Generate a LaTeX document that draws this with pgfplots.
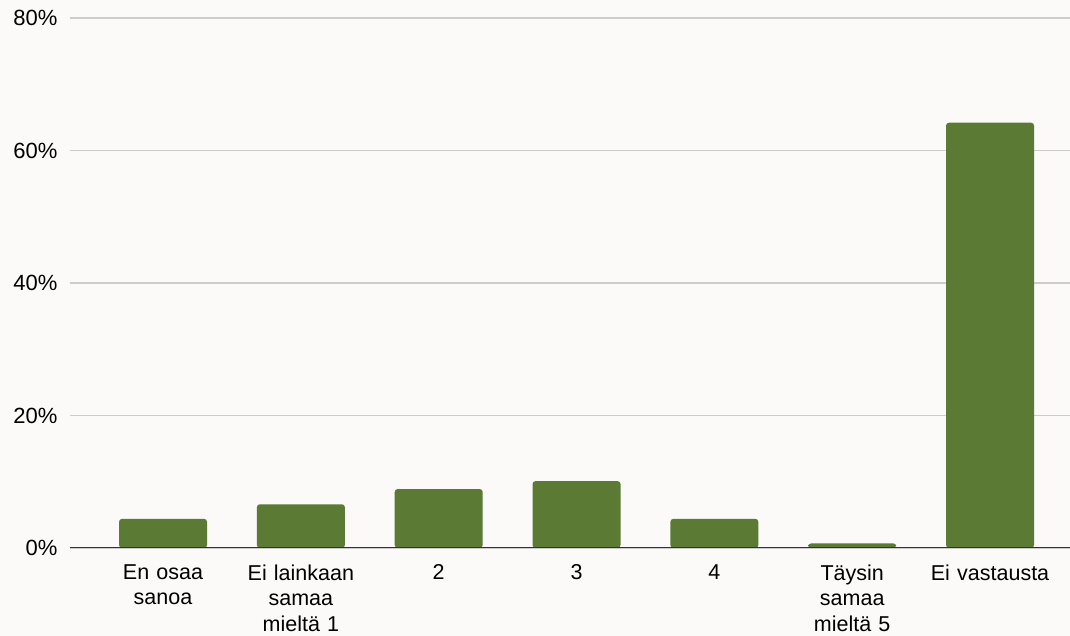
\documentclass[border=0pt]{standalone}
\usepackage{fontspec}
\setmainfont{Liberation Sans}
\usepackage{pgfplots}
\pgfplotsset{compat=1.18}

\definecolor{bargreen}{HTML}{5B7A34}
\definecolor{bggray}{HTML}{FCFAF9}
\definecolor{gridgray}{HTML}{CCCCCC}

\begin{document}
\begin{tikzpicture}
\fill[bggray, use as bounding box] (-70pt,-88pt) rectangle (1000pt,548pt);
\begin{axis}[
    at={(0pt,0pt)}, anchor=south west,
    scale only axis,
    width=1000pt,
    height=530pt,
    ybar,
    bar width=88pt,
    xmin=-0.675, xmax=6.58,
    ymin=0, ymax=80,
    ytick={0,20,40,60,80},
    yticklabel={\pgfmathprintnumber{\tick}\%},
    xtick={0,1,2,3,4,5,6},
    xticklabels={En osaa\\sanoa, Ei lainkaan\\samaa\\mieltä 1, 2, 3, 4, Täysin\\samaa\\mieltä 5, Ei vastausta},
    xticklabel style={align=center, text width=140pt, font=\fontsize{21.5}{25.5}\selectfont, anchor=north, yshift=-13pt},
    yticklabel style={font=\fontsize{22}{25}\selectfont, xshift=-9pt},
    /pgf/number format/assume math mode=true,
    ymajorgrids,
    grid style={gridgray, line width=1.2pt},
    major tick length=0pt,
    axis line style={draw=none},
    xtick pos=bottom,
    ytick pos=left,
    ]
\addplot[fill=bargreen, draw=none, rounded corners=3pt] coordinates {
    (0, 4.4)
    (1, 6.6)
    (2, 8.9)
    (3, 10.1)
    (4, 4.4)
    (5, 0.7)
    (6, 64.2)
};
\draw[black!80, line width=1.2pt] (axis cs:-0.675,0) -- (axis cs:6.58,0);
\end{axis}
\end{tikzpicture}
\end{document}
